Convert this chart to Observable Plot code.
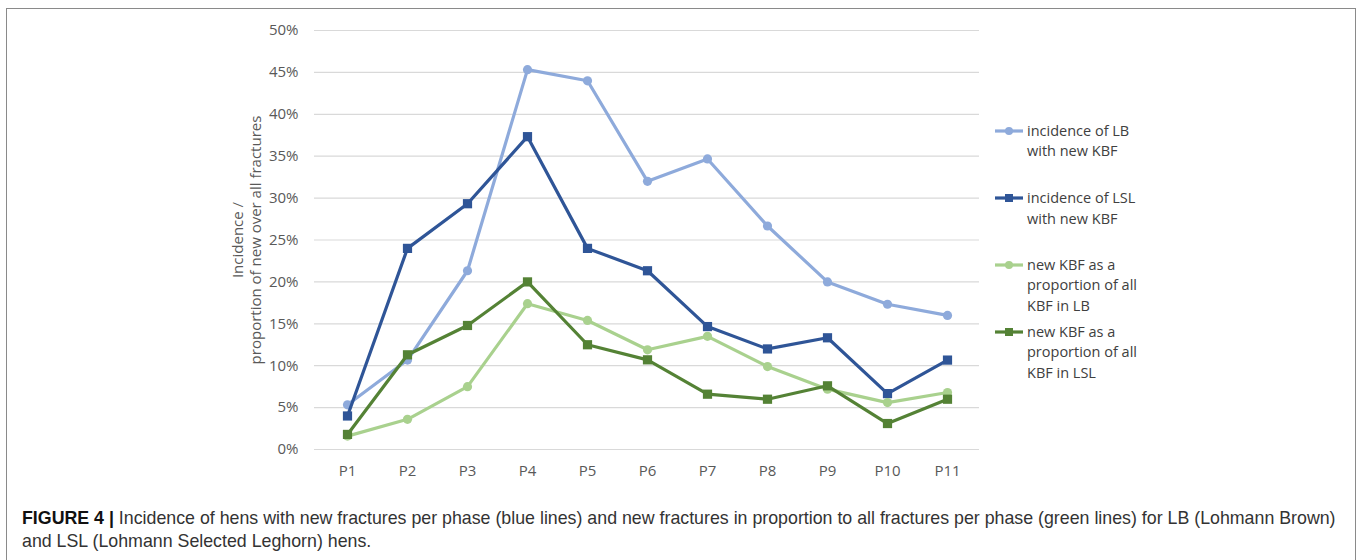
<!DOCTYPE html>
<html><head><meta charset="utf-8">
<script src="https://cdn.jsdelivr.net/npm/d3@7"></script>
<script src="https://cdn.jsdelivr.net/npm/@observablehq/plot@0.6"></script>
<style>
html,body{margin:0;padding:0;background:#fff;}
body{width:1360px;height:560px;position:relative;overflow:hidden;}
#frame{position:absolute;left:6px;top:8px;width:1350px;height:600px;border:1.5px solid #8a8a8a;box-sizing:border-box;}
#chart{position:absolute;left:0;top:0;}
.leg{position:absolute;left:993px;font-family:"Open Sans",sans-serif;font-size:14.5px;line-height:20.5px;color:#404040;}
.leg svg{position:absolute;left:0;top:4px;}
.leg span{display:block;margin-left:34px;white-space:nowrap;}
#caption{position:absolute;left:22px;top:507px;font-family:"Liberation Sans",Arial,sans-serif;font-size:17.8px;line-height:23px;color:#333;white-space:nowrap;}
#caption b{color:#111;}
</style></head>
<body>
<div id="frame"></div>
<div id="chart"></div>
<div id="legend"></div>
<div id="caption"><b>FIGURE 4 |</b> Incidence of hens with new fractures per phase (blue lines) and new fractures in proportion to all fractures per phase (green lines) for LB (Lohmann Brown)<br>and LSL (Lohmann Selected Leghorn) hens.</div>
<script>
// ---- data ----
const phases = ["P1","P2","P3","P4","P5","P6","P7","P8","P9","P10","P11"];
const lbIncidence  = [5.33, 10.67, 21.33, 45.33, 44.0, 32.0, 34.67, 26.67, 20.0, 17.33, 16.0];
const lslIncidence = [4.0, 24.0, 29.33, 37.33, 24.0, 21.33, 14.67, 12.0, 13.33, 6.67, 10.67];
const lbNewShare   = [1.6, 3.6, 7.5, 17.4, 15.4, 11.9, 13.5, 9.9, 7.2, 5.6, 6.8];
const lslNewShare  = [1.8, 11.3, 14.8, 20.0, 12.5, 10.7, 6.6, 6.0, 7.6, 3.1, 6.0];
const yTicks = [0,5,10,15,20,25,30,35,40,45,50];
const seriesNames = [
  ["incidence of LB","with new KBF"],
  ["incidence of LSL","with new KBF"],
  ["new KBF as a","proportion of all","KBF in LB"],
  ["new KBF as a","proportion of all","KBF in LSL"]
];
const seriesValues = [lbIncidence, lslIncidence, lbNewShare, lslNewShare];
const seriesColors = ["#8eaadb", "#2f5597", "#a9d18e", "#548235"];
const seriesSymbols = ["circle", "square", "circle", "square"];
const yLabel = "Incidence /\nproportion of new over all fractures";

const marks = [
  Plot.gridY(yTicks, {stroke: "#d9d9d9", strokeOpacity: 1, strokeWidth: 1.2}),
  Plot.axisY(yTicks, {tickSize: 0, tickPadding: 16, tickFormat: d => d + "%", label: null, fontSize: 15, fill: "#595959"}),
  Plot.axisX({tickSize: 0, tickPadding: 16, label: null, fontSize: 15, fill: "#595959"}),
  Plot.text([yLabel], {frameAnchor: "left", textAnchor: "middle", rotate: -90, dx: -68, fontSize: 15, fill: "#595959", lineHeight: 1.2})
];
seriesValues.forEach((vals, i) => {
  const rows = phases.map((p, j) => ({phase: p, value: vals[j]}));
  marks.push(Plot.line(rows, {x: "phase", y: "value", stroke: seriesColors[i], strokeWidth: 3.2, strokeLinejoin: "round"}));
  marks.push(Plot.dot(rows, {x: "phase", y: "value", fill: seriesColors[i], stroke: "none",
    symbol: seriesSymbols[i], r: seriesSymbols[i] === "circle" ? 4.6 : 5.2}));
});

const chart = Plot.plot({
  width: 1000, height: 480,
  marginLeft: 314, marginRight: 21, marginTop: 30, marginBottom: 31,
  style: {fontFamily: "Open Sans, sans-serif", background: "transparent", color: "#595959"},
  x: {type: "point", domain: phases, padding: 0.5},
  y: {domain: [0, 50]},
  marks
});
document.getElementById("chart").appendChild(chart);

// legend
const legTops = [131, 198.5, 265, 332];
const leg = document.getElementById("legend");
seriesNames.forEach((lines, i) => {
  const div = document.createElement("div");
  div.className = "leg";
  div.style.top = (legTops[i] - 10.25) + "px";
  const c = seriesColors[i];
  const sym = seriesSymbols[i] === "circle"
    ? `<circle cx="16" cy="6" r="4" fill="${c}"/>`
    : `<rect x="12" y="2" width="8" height="8" fill="${c}"/>`;
  div.innerHTML = `<svg width="32" height="12"><line x1="2" x2="30" y1="6" y2="6" stroke="${c}" stroke-width="3.2"/>${sym}</svg>` +
    lines.map(t => `<span>${t}</span>`).join("");
  leg.appendChild(div);
});
</script>
</body></html>
